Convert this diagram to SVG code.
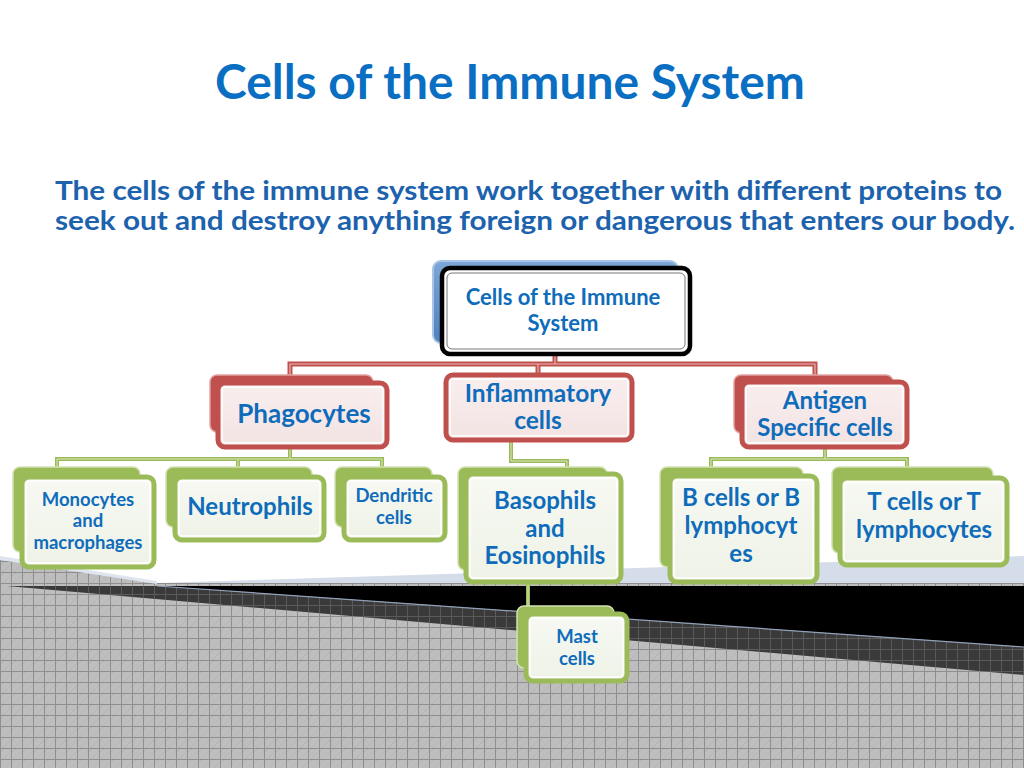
<svg xmlns="http://www.w3.org/2000/svg" width="1024" height="768" viewBox="0 0 1024 768">
<defs>
<pattern id="grid" width="11" height="11" patternUnits="userSpaceOnUse">
<rect width="11" height="11" fill="#bebebe"/>
<path d="M0 5L5 0M3 11L11 3" stroke="#b0b0b0" stroke-width="0.6"/>
<path d="M0 0.5H11M0.5 0V11" stroke="#8e8e8e" stroke-width="1"/>
</pattern>
<pattern id="dgrid" width="11" height="11" patternUnits="userSpaceOnUse">
<rect width="11" height="11" fill="#3a3a3a"/>
<path d="M0 0.5H11M0.5 0V11" stroke="#5a5a5a" stroke-width="1"/>
</pattern>
<linearGradient id="blueg" x1="0" y1="0" x2="0" y2="1">
<stop offset="0" stop-color="#7ea6d8"/>
<stop offset="1" stop-color="#4f81bd"/>
</linearGradient>
<linearGradient id="greenf" x1="0" y1="0" x2="0" y2="1">
<stop offset="0" stop-color="#f7f9f3"/>
<stop offset="1" stop-color="#eef2e6"/>
</linearGradient>
<linearGradient id="redf" x1="0" y1="0" x2="0" y2="1">
<stop offset="0" stop-color="#f9eeee"/>
<stop offset="1" stop-color="#f3e3e3"/>
</linearGradient>
</defs>
<style>
.t{font-family:"Lato","Liberation Sans",sans-serif;font-weight:bold;fill:#0e6cbb;text-anchor:middle}
.rb{fill:#c0504d;stroke:#e0a3a1;stroke-width:1.5}
.rf{fill:url(#redf);stroke:#c0504d;stroke-width:5}
.gb{fill:#9bbb59;stroke:#d2e1b2;stroke-width:1.5}
.gf{fill:url(#greenf);stroke:#9bbb59;stroke-width:5}
.in{fill:none;stroke:#ffffff;stroke-width:1.4}
.rc{fill:none;stroke:#c0504d;stroke-width:5}
.rc2{fill:none;stroke:#e8b5b4;stroke-width:1.2}
.gc{fill:none;stroke:#9bbb59;stroke-width:4}
.gc2{fill:none;stroke:#d9e6c0;stroke-width:1}
.s{font-family:"Lato","Liberation Sans",sans-serif;font-weight:bold;font-size:27px;fill:#1d62ad}
</style>
<rect width="1024" height="768" fill="#ffffff"/>
<g id="background">
<polygon points="157,583 1024,556 1024,587 157,587" fill="#d5dcea"/>
<polygon points="0,559 157,583 1024,583 1024,768 0,768" fill="url(#grid)"/>
<polygon points="0,556 157,581 157,584 0,560" fill="#dfe5ef"/>
<polygon points="157,586 1024,586 1024,647" fill="#000000"/>
<polygon points="7,586 157,586 1024,647 1024,675" fill="url(#dgrid)"/>
<line x1="157" y1="586" x2="1024" y2="647" stroke="#8fa0b8" stroke-width="1.2"/>
</g>
<g id="title">
<text x="510" y="99" class="t" style="font-size:47px;fill:#0a6fc2" textLength="590" lengthAdjust="spacingAndGlyphs">Cells of the Immune System</text>
<text class="s"><tspan x="55" y="200" textLength="947" lengthAdjust="spacingAndGlyphs">The cells of the immune system work together with different proteins to</tspan><tspan x="55" y="230" textLength="960" lengthAdjust="spacingAndGlyphs">seek out and destroy anything foreign or dangerous that enters our body.</tspan></text>
</g>
<g id="connectors">
<path class="rc" d="M555 354V364M290 378V364H815V378M538 364V374"/>
<path class="rc2" d="M555 354V364M290 378V364H815V378M538 364V374"/>
<path class="gc" d="M290 449V459M57 467V459H382V467M238 459V467"/>
<path class="gc2" d="M290 449V459M57 467V459H382V467M238 459V467"/>
<path class="gc" d="M511 441V461H567V468"/>
<path class="gc2" d="M511 441V461H567V468"/>
<path class="gc" d="M825 448V459M711 467V459H907V467"/>
<path class="gc2" d="M825 448V459M711 467V459H907V467"/>
<path class="gc" d="M528 583V607"/>
<path class="gc2" d="M528 583V607"/>
</g>
<g id="root">
<rect x="433" y="261" width="245" height="82" rx="8" fill="url(#blueg)" stroke="#a9c4e6" stroke-width="2"/>
<rect x="442" y="268" width="248" height="86" rx="8" fill="#ffffff" stroke="#000000" stroke-width="4.5"/>
<rect x="447" y="273" width="238" height="76" rx="5" fill="none" stroke="#555555" stroke-width="0.8"/>
<text class="t" x="563" y="305" style="font-size:22px">Cells of the Immune</text>
<text class="t" x="563" y="331" style="font-size:22px">System</text>
</g>
<g id="phagocytes">
<rect class="rb" x="210" y="375" width="163" height="57" rx="7"/>
<rect class="rf" x="218" y="383" width="169" height="64" rx="7"/>
<rect class="in" x="222" y="387" width="161" height="56" rx="4"/>
<text class="t" x="304" y="423" style="font-size:26px">Phagocytes</text>
</g>
<g id="inflammatory">
<rect class="rf" x="446" y="375" width="186" height="65" rx="7"/>
<rect class="in" x="450" y="379" width="178" height="57" rx="4"/>
<text class="t" x="538" y="402" style="font-size:24.5px">Inflammatory</text>
<text class="t" x="538" y="429" style="font-size:24.5px">cells</text>
</g>
<g id="antigen">
<rect class="rb" x="734" y="375" width="159" height="58" rx="7"/>
<rect class="rf" x="742" y="382" width="165" height="65" rx="7"/>
<rect class="in" x="746" y="386" width="157" height="57" rx="4"/>
<text class="t" x="825" y="409" style="font-size:24px">Antigen</text>
<text class="t" x="825" y="436" style="font-size:24px">Specific cells</text>
</g>
<g id="monocytes">
<rect class="gb" x="13" y="467" width="127" height="85" rx="7"/>
<rect class="gf" x="22" y="477" width="132" height="90" rx="7"/>
<rect class="in" x="26" y="481" width="124" height="82" rx="4"/>
<text class="t" x="88" y="506" style="font-size:18.5px">Monocytes</text>
<text class="t" x="88" y="527" style="font-size:18.5px">and</text>
<text class="t" x="88" y="549" style="font-size:18.5px">macrophages</text>
</g>
<g id="neutrophils">
<rect class="gb" x="166" y="467" width="146" height="60" rx="7"/>
<rect class="gf" x="175" y="477" width="149" height="63" rx="7"/>
<rect class="in" x="179" y="481" width="141" height="55" rx="4"/>
<text class="t" x="250" y="515" style="font-size:24px">Neutrophils</text>
</g>
<g id="dendritic">
<rect class="gb" x="335" y="467" width="97" height="60" rx="7"/>
<rect class="gf" x="344" y="477" width="101" height="63" rx="7"/>
<rect class="in" x="348" y="481" width="93" height="55" rx="4"/>
<text class="t" x="394" y="502" style="font-size:18.5px">Dendritic</text>
<text class="t" x="394" y="524" style="font-size:18.5px">cells</text>
</g>
<g id="basophils">
<rect class="gb" x="458" y="467" width="149" height="103" rx="7"/>
<rect class="gf" x="466" y="474" width="155" height="108" rx="7"/>
<rect class="in" x="470" y="478" width="147" height="100" rx="4"/>
<text class="t" x="545" y="509" style="font-size:24px">Basophils</text>
<text class="t" x="545" y="537" style="font-size:24px">and</text>
<text class="t" x="545" y="564" style="font-size:24px">Eosinophils</text>
</g>
<g id="bcells">
<rect class="gb" x="660" y="467" width="143" height="100" rx="7"/>
<rect class="gf" x="670" y="476" width="147" height="106" rx="7"/>
<rect class="in" x="674" y="480" width="139" height="98" rx="4"/>
<text class="t" x="741" y="506" style="font-size:24px">B cells or B</text>
<text class="t" x="741" y="534" style="font-size:24px">lymphocyt</text>
<text class="t" x="741" y="562" style="font-size:24px">es</text>
</g>
<g id="tcells">
<rect class="gb" x="832" y="467" width="161" height="86" rx="7"/>
<rect class="gf" x="840" y="478" width="167" height="87" rx="7"/>
<rect class="in" x="844" y="482" width="159" height="79" rx="4"/>
<text class="t" x="924" y="510" style="font-size:24px">T cells or T</text>
<text class="t" x="924" y="538" style="font-size:24px">lymphocytes</text>
</g>
<g id="mast">
<rect class="gb" x="517" y="606" width="97" height="62" rx="7"/>
<rect class="gf" x="526" y="614" width="101" height="67" rx="7"/>
<rect class="in" x="530" y="618" width="93" height="59" rx="4"/>
<text class="t" x="577" y="643" style="font-size:18.5px">Mast</text>
<text class="t" x="577" y="665" style="font-size:18.5px">cells</text>
</g>
</svg>
